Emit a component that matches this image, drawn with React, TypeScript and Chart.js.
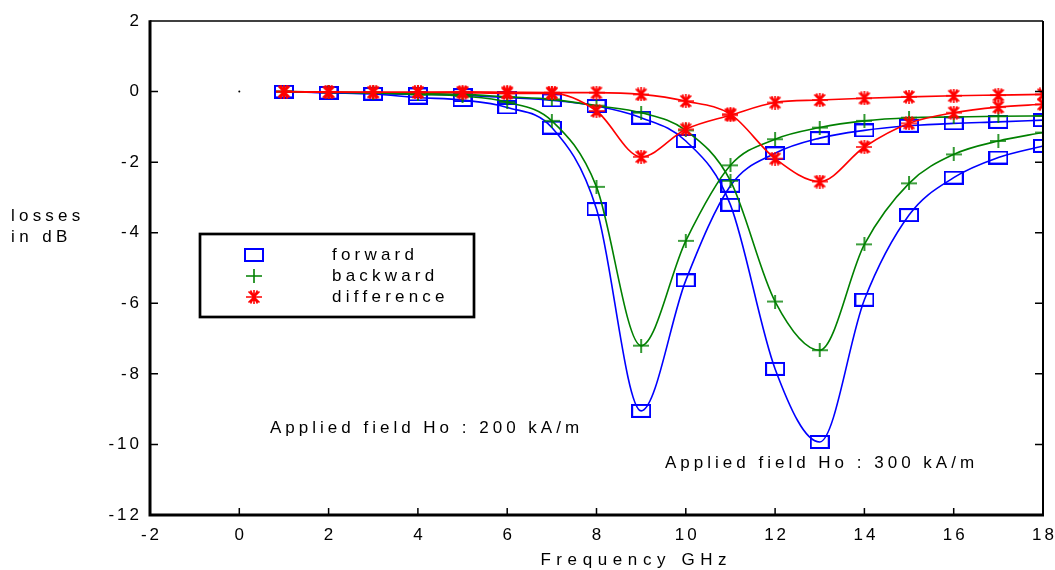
import React, { useEffect, useRef } from 'react';
import { Chart, registerables } from 'chart.js';

Chart.register(...registerables);

// ---------- data ----------
const freqGHz = [1, 2, 3, 4, 5, 6, 7, 8, 9, 10, 11, 12, 13, 14, 15, 16, 17, 18];

// Applied field Ho : 200 kA/m
const forward200 = [0, -0.04, -0.07, -0.17, -0.24, -0.45, -1.02, -3.33, -9.05, -5.35, -2.67, -1.75, -1.32, -1.1, -0.97, -0.9, -0.86, -0.81];
const backward200 = [0, -0.02, -0.04, -0.08, -0.13, -0.3, -0.83, -2.7, -7.2, -4.23, -2.09, -1.35, -1.02, -0.83, -0.74, -0.72, -0.7, -0.69];
const difference200 = [0, -0.02, -0.02, -0.02, -0.03, -0.05, -0.05, -0.55, -1.85, -1.07, -0.67, -0.31, -0.24, -0.19, -0.15, -0.12, -0.1, -0.08];

// Applied field Ho : 300 kA/m
const forward300 = [0, -0.03, -0.06, -0.08, -0.1, -0.17, -0.25, -0.41, -0.74, -1.4, -3.21, -7.86, -9.93, -5.9, -3.5, -2.44, -1.87, -1.54];
const backward300 = [0, -0.02, -0.03, -0.05, -0.08, -0.15, -0.22, -0.4, -0.6, -1.1, -2.53, -5.95, -7.33, -4.33, -2.6, -1.78, -1.4, -1.16];
const difference300 = [0, -0.01, -0.02, -0.02, -0.01, -0.02, -0.03, -0.03, -0.08, -0.27, -0.64, -1.9, -2.55, -1.57, -0.9, -0.6, -0.44, -0.36];

const originPoint = [{ x: 0, y: 0 }];

const xTickValues = [-2, 0, 2, 4, 6, 8, 10, 12, 14, 16, 18];
const yTickValues = [2, 0, -2, -4, -6, -8, -10, -12];

const legendLabels = ['forward', 'backward', 'difference'];
const annotation200 = 'Applied field Ho : 200 kA/m';
const annotation300 = 'Applied field Ho : 300 kA/m';
const xTitle = 'Frequency GHz';
const yTitleLines = ['losses', 'in dB'];

// ---------- styles ----------
const BLUE = '#0000FF';
const GREEN = '#008000';
const RED = '#FF0000';
const FONT = '17px "Liberation Sans", Arial, sans-serif';

function makeSquare(): HTMLCanvasElement {
  const c = document.createElement('canvas');
  c.width = 20; c.height = 14;
  const g = c.getContext('2d')!;
  g.strokeStyle = BLUE; g.lineWidth = 2;
  g.strokeRect(1, 1, 18, 12);
  return c;
}
function makePlus(): HTMLCanvasElement {
  const c = document.createElement('canvas');
  c.width = 16; c.height = 14;
  const g = c.getContext('2d')!;
  g.strokeStyle = GREEN; g.lineWidth = 1.6;
  g.beginPath();
  g.moveTo(0, 7); g.lineTo(16, 7);
  g.moveTo(8, 0); g.lineTo(8, 14);
  g.stroke();
  return c;
}
function makeStar(): HTMLCanvasElement {
  const c = document.createElement('canvas');
  c.width = 16; c.height = 14;
  const g = c.getContext('2d')!;
  g.strokeStyle = RED; g.lineWidth = 1.6;
  g.beginPath();
  g.moveTo(0, 7); g.lineTo(16, 7);
  g.moveTo(8, 0); g.lineTo(8, 14);
  g.moveTo(2.5, 1.5); g.lineTo(13.5, 12.5);
  g.moveTo(13.5, 1.5); g.lineTo(2.5, 12.5);
  g.moveTo(4.5, 0.5); g.lineTo(11.5, 13.5);
  g.moveTo(11.5, 0.5); g.lineTo(4.5, 13.5);
  g.stroke();
  return c;
}

function drawSpaced(
  ctx: CanvasRenderingContext2D,
  text: string,
  x: number,
  y: number,
  spacing: number,
  align: 'left' | 'center' | 'right'
) {
  const chars = Array.from(text);
  const widths = chars.map((ch) => ctx.measureText(ch).width);
  const total = widths.reduce((a, b) => a + b, 0) + spacing * (chars.length - 1);
  let cx = align === 'left' ? x : align === 'center' ? x - total / 2 : x - total;
  ctx.textAlign = 'left';
  chars.forEach((ch, i) => {
    ctx.fillText(ch, cx, y);
    cx += widths[i] + spacing;
  });
}

export default function App() {
  const canvasRef = useRef<HTMLCanvasElement | null>(null);

  useEffect(() => {
    const canvas = canvasRef.current;
    if (!canvas) return;
    const square = makeSquare();
    const plus = makePlus();
    const star = makeStar();

    const toPts = (ys: number[]) => freqGHz.map((x, i) => ({ x, y: ys[i] }));

    const lineDs = (label: string, ys: number[], color: string, marker: HTMLCanvasElement, order: number) => ({
      label,
      data: toPts(ys),
      showLine: true,
      borderColor: color,
      backgroundColor: color,
      borderWidth: 1.6,
      cubicInterpolationMode: 'monotone' as const,
      pointStyle: marker,
      pointRadius: 5,
      pointHoverRadius: 5,
      order,
    });

    const framePlugin = {
      id: 'frameAndText',
      afterDraw(chart: any) {
        const ctx: CanvasRenderingContext2D = chart.ctx;
        const { left, right, top, bottom } = chart.chartArea;
        const xs = chart.scales.x;
        const ys = chart.scales.y;
        ctx.save();
        ctx.strokeStyle = '#000';
        ctx.fillStyle = '#000';
        ctx.lineCap = 'butt';

        // frame
        ctx.lineWidth = 1.5;
        ctx.beginPath(); ctx.moveTo(left, top); ctx.lineTo(right, top); ctx.stroke();
        ctx.lineWidth = 2;
        ctx.beginPath(); ctx.moveTo(right, top); ctx.lineTo(right, bottom); ctx.stroke();
        ctx.lineWidth = 3;
        ctx.beginPath(); ctx.moveTo(left, top - 0.75); ctx.lineTo(left, bottom); ctx.lineTo(right + 1, bottom); ctx.stroke();

        // ticks (inward)
        ctx.lineWidth = 1.5;
        ctx.beginPath();
        xTickValues.forEach((v) => {
          const px = xs.getPixelForValue(v);
          if (v !== xTickValues[0] && v !== xTickValues[xTickValues.length - 1]) {
            ctx.moveTo(px, bottom); ctx.lineTo(px, bottom - 7);
          }
        });
        yTickValues.forEach((v) => {
          const py = ys.getPixelForValue(v);
          if (v !== yTickValues[0] && v !== yTickValues[yTickValues.length - 1]) {
            ctx.moveTo(left, py); ctx.lineTo(left + 8, py);
            ctx.moveTo(right, py); ctx.lineTo(right - 8, py);
          }
        });
        ctx.stroke();

        // tick labels
        ctx.font = FONT;
        ctx.textBaseline = 'alphabetic';
        xTickValues.forEach((v) => {
          drawSpaced(ctx, String(v), xs.getPixelForValue(v), bottom + 25, 3, 'center');
        });
        ctx.textBaseline = 'middle';
        yTickValues.forEach((v) => {
          drawSpaced(ctx, String(v), left - 11, ys.getPixelForValue(v), 3, 'right');
        });

        // axis titles
        ctx.textBaseline = 'alphabetic';
        drawSpaced(ctx, xTitle, (left + right) / 2 + 37, bottom + 50, 5.6, 'center');
        ctx.textBaseline = 'middle';
        drawSpaced(ctx, yTitleLines[0], 11, 216, 4.2, 'left');
        drawSpaced(ctx, yTitleLines[1], 11, 237, 4.4, 'left');

        // annotations
        ctx.textBaseline = 'alphabetic';
        drawSpaced(ctx, annotation200, 270, 433, 4, 'left');
        drawSpaced(ctx, annotation300, 665, 468, 4, 'left');

        // legend box
        const lx = 200, ly = 234, lw = 274, lh = 83;
        ctx.fillStyle = '#fff';
        ctx.fillRect(lx, ly, lw, lh);
        ctx.lineWidth = 2.7;
        ctx.strokeStyle = '#000';
        ctx.strokeRect(lx, ly, lw, lh);
        const markers = [square, plus, star];
        const rowY = [255, 276, 297];
        ctx.fillStyle = '#000';
        ctx.textBaseline = 'middle';
        legendLabels.forEach((lab, i) => {
          const m = markers[i];
          ctx.drawImage(m, 254 - m.width / 2, rowY[i] - m.height / 2);
          drawSpaced(ctx, lab, 332, rowY[i], 4.2, 'left');
        });
        ctx.restore();
      },
    };

    const chart = new Chart(canvas, {
      type: 'scatter',
      data: {
        datasets: [
          lineDs('difference 200', difference200, RED, star, 1),
          lineDs('difference 300', difference300, RED, star, 1),
          lineDs('backward 200', backward200, GREEN, plus, 2),
          lineDs('backward 300', backward300, GREEN, plus, 2),
          lineDs('forward 200', forward200, BLUE, square, 3),
          lineDs('forward 300', forward300, BLUE, square, 3),
          {
            label: 'origin',
            data: originPoint,
            showLine: false,
            pointStyle: 'circle',
            pointRadius: 1,
            backgroundColor: '#000',
            borderColor: '#000',
            borderWidth: 0,
            order: 4,
          },
        ] as any,
      },
      options: {
        responsive: false,
        animation: false,
        devicePixelRatio: 1,
        layout: { padding: { left: 0, right: 12, top: 21, bottom: 0 } },
        plugins: { legend: { display: false }, tooltip: { enabled: false } },
        events: [],
        scales: {
          x: {
            type: 'linear',
            min: -2,
            max: 18,
            ticks: { display: false, stepSize: 2 },
            grid: { display: false },
            border: { display: false },
            afterFit: (s: any) => { s.height = 55; },
          },
          y: {
            type: 'linear',
            min: -12,
            max: 2,
            ticks: { display: false, stepSize: 2 },
            grid: { display: false },
            border: { display: false },
            afterFit: (s: any) => { s.width = 150; },
          },
        },
      } as any,
      plugins: [framePlugin],
    });

    return () => chart.destroy();
  }, []);

  return (
    <div style={{ position: 'fixed', left: 0, top: 0, width: 1055, height: 570, background: '#fff' }}>
      <canvas ref={canvasRef} width={1055} height={570} style={{ display: 'block' }} />
    </div>
  );
}
